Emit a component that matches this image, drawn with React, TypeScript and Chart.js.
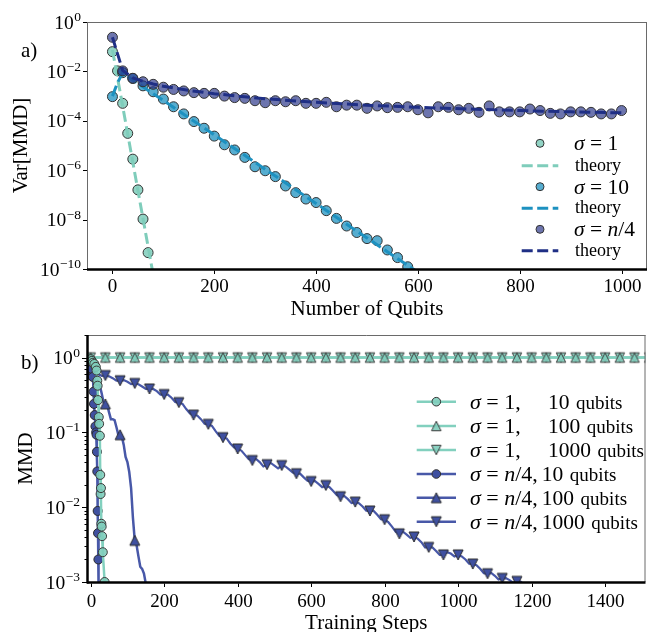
import React, { useEffect, useRef } from "react";
import { Chart, registerables } from "chart.js";
Chart.register(...registerables);

const SERIF = '"Liberation Serif", "Times New Roman", serif';

// ---------------- Panel a) : Var[MMD] vs number of qubits ----------------
const qubitsS1 = [0, 10, 20, 30, 40, 50, 60, 70];
const varS1 = [0.063, 0.0105, 5.1e-4, 3.1e-5, 2.8e-6, 1.6e-7, 1.05e-8, 4.6e-10];
const theoryQubitsS1 = [0, 20, 40, 60, 80];
const theoryS1 = [0.074, 4.0e-4, 2.1e-6, 1.1e-8, 5.9e-11];

const qubitsS10 = [0, 20, 40, 60, 80, 100, 120, 140, 160, 180, 200, 220, 240, 260, 280, 300, 320, 340, 360, 380, 400, 420, 440, 460, 480, 500, 520, 540, 560, 580];
const varS10 = [9.5e-4, 8.9e-3, 5.2e-3, 2.6e-3, 1.5e-3, 7.6e-4, 3.7e-4, 1.9e-4, 9.3e-5, 5.0e-5, 2.4e-5, 1.07e-5, 6.6e-6, 3.3e-6, 1.38e-6, 9.5e-7, 5.5e-7, 2.3e-7, 1.23e-7, 6.8e-8, 4.9e-8, 2.3e-8, 1.12e-8, 5.5e-9, 3.0e-9, 1.7e-9, 1.4e-9, 5.9e-10, 2.9e-10, 1.23e-10];
const theoryQubitsS10 = [0, 10, 20, 100, 200, 300, 400, 500, 600];
const theoryS10 = [1.0e-3, 3.5e-3, 8.5e-3, 6.6e-4, 2.7e-5, 1.1e-6, 4.5e-8, 1.8e-9, 7.4e-11];

const qubitsN4 = [0, 20, 40, 60, 80, 100, 120, 140, 160, 180, 200, 220, 240, 260, 280, 300, 320, 340, 360, 380, 400, 420, 440, 460, 480, 500, 520, 540, 560, 580, 600, 620, 640, 660, 680, 700, 720, 740, 760, 780, 800, 820, 840, 860, 880, 900, 920, 940, 960, 980, 1000];
const varN4 = [0.24, 0.0105, 0.00525, 0.0038, 0.003, 0.00229, 0.00186, 0.00162, 0.00138, 0.00129, 0.00129, 0.001, 0.00087, 0.00081, 0.00065, 0.00054, 0.00065, 0.00059, 0.00065, 0.00051, 0.00051, 0.00056, 0.00037, 0.00043, 0.00043, 0.00032, 0.0004, 0.00034, 0.00035, 0.00037, 0.00028, 0.00021, 0.00037, 0.00035, 0.00028, 0.00032, 0.00022, 0.0004, 0.00023, 0.00023, 0.00023, 0.0003, 0.00026, 0.0002, 0.00019, 0.00023, 0.00023, 0.00022, 0.00019, 0.00019, 0.00026];
const theoryQubitsN4 = [0, 20, 40, 60, 80, 100, 150, 200, 300, 400, 500, 600, 700, 800, 900, 1000];
const theoryN4 = [0.24, 0.011, 0.0055, 0.004, 0.0031, 0.0025, 0.0017, 0.00125, 0.00078, 0.00056, 0.00043, 0.00035, 0.0003, 0.00026, 0.00023, 0.00021];

const topXTicks = [0, 200, 400, 600, 800, 1000];
const topYTicks = [1, 1e-2, 1e-4, 1e-6, 1e-8, 1e-10];
const topYTickExps = ["0", "\u22122", "\u22124", "\u22126", "\u22128", "\u221210"];
const topLegendLabels = ["\u03c3 = 1", "theory", "\u03c3 = 10", "theory", "\u03c3 = n/4", "theory"];

// ---------------- Panel b) : MMD vs training steps ----------------
const stepsS1n10 = [0, 3, 6, 10, 14, 16, 18, 19, 20, 22, 23, 25, 26, 27, 28, 29, 30, 31, 33, 38];
const mmdS1n10 = [0.95, 0.9, 0.85, 0.82, 0.75, 0.67, 0.49, 0.42, 0.27, 0.16, 0.13, 0.09, 0.027, 0.015, 0.018, 0.006, 0.0055, 0.0041, 0.0025, 0.001];

const stepsFlat = [0, 40, 80, 120, 160, 200, 240, 280, 320, 360, 400, 440, 480, 520, 560, 600, 640, 680, 720, 760, 800, 840, 880, 920, 960, 1000, 1040, 1080, 1120, 1160, 1200, 1240, 1280, 1320, 1360, 1400, 1440, 1480, 1520];
const mmdS1n100 = [1.0, 1.0, 1.0, 1.0, 1.0, 1.0, 1.0, 1.0, 1.0, 1.0, 1.0, 1.0, 1.0, 1.0, 1.0, 1.0, 1.0, 1.0, 1.0, 1.0, 1.0, 1.0, 1.0, 1.0, 1.0, 1.0, 1.0, 1.0, 1.0, 1.0, 1.0, 1.0, 1.0, 1.0, 1.0, 1.0, 1.0, 1.0, 1.0];
const mmdS1n1000 = [1.0, 1.0, 1.0, 1.0, 1.0, 1.0, 1.0, 1.0, 1.0, 1.0, 1.0, 1.0, 1.0, 1.0, 1.0, 1.0, 1.0, 1.0, 1.0, 1.0, 1.0, 1.0, 1.0, 1.0, 1.0, 1.0, 1.0, 1.0, 1.0, 1.0, 1.0, 1.0, 1.0, 1.0, 1.0, 1.0, 1.0, 1.0, 1.0];

const stepsN4n10 = [0, 2, 4, 6, 8, 9, 11, 13, 15, 16, 17, 18, 19, 20, 21, 22];
const mmdN4n10 = [0.92, 0.85, 0.7, 0.55, 0.35, 0.24, 0.17, 0.12, 0.1, 0.093, 0.055, 0.03, 0.0089, 0.0045, 0.002, 0.0008];

const stepsN4n100 = [0, 5, 10, 15, 20, 25, 30, 35, 40, 45, 50, 55, 60, 65, 70, 75, 80, 85, 90, 95, 100, 105, 110, 115, 120, 125, 130, 135, 140, 145, 150, 155, 160];
const mmdN4n100 = [0.6, 0.63, 0.55, 0.45, 0.45, 0.42, 0.33, 0.253, 0.24, 0.232, 0.185, 0.15, 0.15, 0.146, 0.118, 0.094, 0.093, 0.087, 0.068, 0.047, 0.04, 0.0295, 0.018, 0.0072, 0.0036, 0.0031, 0.0022, 0.0016, 0.0015, 0.0013, 0.00095, 0.00068, 0.0006];

const stepsN4n1000 = [0, 10, 20, 30, 40, 50, 60, 70, 80, 90, 100, 110, 120, 130, 140, 150, 160, 170, 180, 190, 200, 210, 220, 230, 240, 250, 260, 270, 280, 290, 300, 310, 320, 330, 340, 350, 360, 370, 380, 390, 400, 410, 420, 430, 440, 450, 460, 470, 480, 490, 500, 510, 520, 530, 540, 550, 560, 570, 580, 590, 600, 610, 620, 630, 640, 650, 660, 670, 680, 690, 700, 710, 720, 730, 740, 750, 760, 770, 780, 790, 800, 810, 820, 830, 840, 850, 860, 870, 880, 890, 900, 910, 920, 930, 940, 950, 960, 970, 980, 990, 1000, 1010, 1020, 1030, 1040, 1050, 1060, 1070, 1080, 1090, 1100, 1110, 1120, 1130, 1140, 1150, 1160, 1170, 1180];
const mmdN4n1000 = [0.62, 0.63, 0.6, 0.57, 0.575, 0.56, 0.53, 0.49, 0.49, 0.5, 0.475, 0.44, 0.45, 0.44, 0.41, 0.38, 0.38, 0.38, 0.355, 0.32, 0.32, 0.32, 0.29, 0.255, 0.25, 0.24, 0.205, 0.18, 0.17, 0.168, 0.15, 0.13, 0.128, 0.122, 0.104, 0.09, 0.085, 0.083, 0.071, 0.063, 0.06, 0.057, 0.05, 0.044, 0.042, 0.044, 0.04, 0.035, 0.037, 0.039, 0.036, 0.033, 0.036, 0.035, 0.032, 0.029, 0.028, 0.028, 0.025, 0.0225, 0.022, 0.0225, 0.0205, 0.0185, 0.0195, 0.0185, 0.0165, 0.0145, 0.0138, 0.0141, 0.0128, 0.0114, 0.0117, 0.0113, 0.0102, 0.009, 0.0089, 0.0089, 0.0079, 0.0069, 0.0068, 0.0063, 0.0055, 0.0047, 0.0044, 0.0047, 0.0043, 0.0039, 0.004, 0.0038, 0.0034, 0.0029, 0.0029, 0.0029, 0.0026, 0.0023, 0.0023, 0.0025, 0.0024, 0.0022, 0.0023, 0.0022, 0.002, 0.00176, 0.00174, 0.00168, 0.0015, 0.00131, 0.00129, 0.00132, 0.00121, 0.00108, 0.00112, 0.00113, 0.00106, 0.00098, 0.00102, 0.00101, 0.00092];

const bottomXTicks = [0, 200, 400, 600, 800, 1000, 1200, 1400];
const bottomYTicks = [1, 0.1, 0.01, 0.001];
const bottomYTickExps = ["0", "\u22121", "\u22122", "\u22123"];
const bottomLegendMath = ["\u03c3 = 1,", "\u03c3 = 1,", "\u03c3 = 1,", "\u03c3 = n/4,", "\u03c3 = n/4,", "\u03c3 = n/4,"];
const bottomLegendCounts = ["10", "100", "1000", "10", "100", "1000"];

// ---------------- styles ----------------
const S1_LINE = "#7fcdbb";
const S1_FILL = "rgba(127,205,187,0.85)";
const S10_LINE = "#1d91c0";
const S10_FILL = "rgba(29,145,192,0.75)";
const N4_LINE = "#1f2f85";
const N4_FILL = "rgba(40,52,135,0.68)";
const EDGE = "#333333";
const B_TEAL = "#82d0be";
const B_TEAL_FILL = "rgba(127,205,187,0.9)";
const B_BLUE = "#4858a8";
const B_BLUE_FILL = "#3f50a0";

const pts = (xs: number[], ys: number[]) => xs.map((x, i) => ({ x, y: ys[i] }));

function triMarker(up: boolean, fill: string, edge: string, size: number) {
  const d = Math.ceil(size) + 4;
  const c = document.createElement("canvas");
  c.width = d;
  c.height = d;
  const g = c.getContext("2d")!;
  const h = size / 2;
  const cx = d / 2;
  const cy = d / 2;
  g.beginPath();
  if (up) {
    g.moveTo(cx, cy - h);
    g.lineTo(cx - h, cy + h);
    g.lineTo(cx + h, cy + h);
  } else {
    g.moveTo(cx, cy + h);
    g.lineTo(cx - h, cy - h);
    g.lineTo(cx + h, cy - h);
  }
  g.closePath();
  g.fillStyle = fill;
  g.fill();
  g.lineWidth = 1;
  g.strokeStyle = edge;
  g.stroke();
  return c;
}

function drawPow10(ctx: CanvasRenderingContext2D, exp: string, xRight: number, yc: number, size: number, supSize: number) {
  ctx.textAlign = "left";
  ctx.textBaseline = "alphabetic";
  ctx.font = `${size}px ${SERIF}`;
  const wb = ctx.measureText("10").width;
  ctx.font = `${supSize}px ${SERIF}`;
  const we = ctx.measureText(exp).width;
  const x0 = xRight - wb - we - 0.5;
  const base = yc + size * 0.335;
  ctx.font = `${size}px ${SERIF}`;
  ctx.fillText("10", x0, base);
  ctx.font = `${supSize}px ${SERIF}`;
  ctx.fillText(exp, x0 + wb + 0.5, base - size * 0.38);
}

function drawMath(ctx: CanvasRenderingContext2D, text: string, x: number, baseline: number, size: number) {
  let cx = x;
  const runs = text.match(/[A-Za-z\u03c3]+|[^A-Za-z\u03c3]+/g) || [];
  ctx.textAlign = "left";
  ctx.textBaseline = "alphabetic";
  for (const r of runs) {
    const it = /[A-Za-z\u03c3]/.test(r);
    ctx.font = `${it ? "italic " : ""}${size}px ${SERIF}`;
    ctx.fillText(r, cx, baseline);
    cx += ctx.measureText(r).width;
  }
  return cx;
}

function line(ctx: CanvasRenderingContext2D, x1: number, y1: number, x2: number, y2: number, color: string, w: number) {
  ctx.beginPath();
  ctx.strokeStyle = color;
  ctx.lineWidth = w;
  ctx.moveTo(x1, y1);
  ctx.lineTo(x2, y2);
  ctx.stroke();
}

const topAxes = {
  id: "topAxes",
  afterDraw(chart: any) {
    const ctx: CanvasRenderingContext2D = chart.ctx;
    const a = chart.chartArea;
    const xs = chart.scales.x;
    const ys = chart.scales.y;
    ctx.save();
    ctx.setLineDash([]);
    line(ctx, a.left + 0.5, a.top, a.left + 0.5, a.bottom, "#6a6a6a", 1);
    line(ctx, a.left, a.top + 0.5, a.right, a.top + 0.5, "#6a6a6a", 1);
    line(ctx, a.right - 0.5, a.top, a.right - 0.5, a.bottom, "#6a6a6a", 1);
    line(ctx, a.left, a.bottom + 0.5, a.right, a.bottom + 0.5, "#000", 2.5);
    ctx.fillStyle = "#000";
    topXTicks.forEach((v) => {
      const px = Math.round(xs.getPixelForValue(v)) + 0.5;
      line(ctx, px, a.bottom + 1.5, px, a.bottom + 5, "#000", 1);
      ctx.font = `19px ${SERIF}`;
      ctx.textAlign = "center";
      ctx.textBaseline = "alphabetic";
      ctx.fillText(String(v), px, 292);
    });
    topYTicks.forEach((v, i) => {
      const py = Math.round(ys.getPixelForValue(v)) + 0.5;
      line(ctx, a.left - 4, py, a.left, py, "#000", 1);
      drawPow10(ctx, topYTickExps[i], a.left - 6, ys.getPixelForValue(v), 19.5, 13.5);
    });
    ctx.font = `21px ${SERIF}`;
    ctx.textAlign = "center";
    ctx.textBaseline = "alphabetic";
    ctx.fillText("Number of Qubits", (a.left + a.right) / 2, 315);
    ctx.save();
    ctx.translate(27, (a.top + a.bottom) / 2);
    ctx.rotate(-Math.PI / 2);
    ctx.fillText("Var[MMD]", 0, 0);
    ctx.restore();
    ctx.textAlign = "left";
    ctx.fillText("a)", 21, 57);
    const rows = [143.3, 165.7, 186.7, 208.3, 229.3, 250.7];
    const fills = [S1_FILL, S10_FILL, N4_FILL];
    const lines = [S1_LINE, S10_LINE, N4_LINE];
    for (let k = 0; k < 3; k++) {
      const yP = rows[2 * k];
      ctx.beginPath();
      ctx.arc(540, yP, 4, 0, Math.PI * 2);
      ctx.fillStyle = fills[k];
      ctx.fill();
      ctx.lineWidth = 1;
      ctx.strokeStyle = EDGE;
      ctx.stroke();
      ctx.fillStyle = "#000";
      drawMath(ctx, topLegendLabels[2 * k], 574, yP + 7, 21.5);
      const yL = rows[2 * k + 1];
      ctx.save();
      ctx.setLineDash([11, 4.5]);
      line(ctx, 521.7, yL, 558.3, yL, lines[k], 3);
      ctx.restore();
      ctx.fillStyle = "#000";
      ctx.font = `18px ${SERIF}`;
      ctx.textAlign = "left";
      ctx.fillText(topLegendLabels[2 * k + 1], 575, yL + 5);
    }
    ctx.restore();
  },
};

const markers: any = {};
function getMarkers() {
  if (!markers.tealUp) {
    markers.tealUp = triMarker(true, B_TEAL_FILL, "#3a3a3a", 9.5);
    markers.tealDown = triMarker(false, B_TEAL_FILL, "#3a3a3a", 9.5);
    markers.blueUp = triMarker(true, B_BLUE_FILL, "#2a2a2a", 10);
    markers.blueDown = triMarker(false, B_BLUE_FILL, "#2a2a2a", 10);
  }
  return markers;
}

const bottomAxes = {
  id: "bottomAxes",
  afterDraw(chart: any) {
    const ctx: CanvasRenderingContext2D = chart.ctx;
    const a = chart.chartArea;
    const xs = chart.scales.x;
    const ys = chart.scales.y;
    const m = getMarkers();
    ctx.save();
    ctx.setLineDash([]);
    line(ctx, a.left, a.top + 0.5, a.right, a.top + 0.5, "#6a6a6a", 1);
    line(ctx, a.right - 0.5, a.top, a.right - 0.5, a.bottom, "#6a6a6a", 1);
    line(ctx, a.left + 0.5, a.top, a.left + 0.5, a.bottom + 1.5, "#000", 2.5);
    line(ctx, a.left, a.bottom + 0.5, a.right, a.bottom + 0.5, "#000", 2.5);
    ctx.fillStyle = "#000";
    bottomXTicks.forEach((v) => {
      const px = Math.round(xs.getPixelForValue(v)) + 0.5;
      line(ctx, px, a.bottom + 1.5, px, a.bottom + 5, "#000", 1);
      ctx.font = `19px ${SERIF}`;
      ctx.textAlign = "center";
      ctx.textBaseline = "alphabetic";
      ctx.fillText(String(v), px, a.bottom + 25);
    });
    for (let d = -3; d <= 0; d++) {
      for (let k = 2; k <= 9; k++) {
        const v = k * Math.pow(10, d);
        if (v > ys.max) continue;
        const py = Math.round(ys.getPixelForValue(v)) + 0.5;
        line(ctx, a.left - 2.5, py, a.left, py, "#000", 1);
      }
    }
    bottomYTicks.forEach((v, i) => {
      const py = Math.round(ys.getPixelForValue(v)) + 0.5;
      line(ctx, a.left - 5, py, a.left, py, "#000", 1);
      drawPow10(ctx, bottomYTickExps[i], a.left - 7, ys.getPixelForValue(v), 19.5, 13.5);
    });
    ctx.font = `21px ${SERIF}`;
    ctx.textAlign = "center";
    ctx.textBaseline = "alphabetic";
    ctx.fillText("Training Steps", (a.left + a.right) / 2, 309);
    ctx.save();
    ctx.translate(32, (a.top + a.bottom) / 2);
    ctx.rotate(-Math.PI / 2);
    ctx.fillText("MMD", 0, 0);
    ctx.restore();
    ctx.textAlign = "left";
    ctx.fillText("b)", 21, 49);
    const rows = [81.7, 106, 130, 154, 177.7, 201.7];
    const icons = [null, m.tealUp, m.tealDown, null, m.blueUp, m.blueDown];
    for (let r = 0; r < 6; r++) {
      const y = rows[r];
      const teal = r < 3;
      line(ctx, 416.7, y, 456, y, teal ? B_TEAL : B_BLUE, 2.5);
      const icon = icons[r];
      if (icon) {
        ctx.drawImage(icon, 436.3 - icon.width / 2, y - icon.height / 2);
      } else {
        ctx.beginPath();
        ctx.arc(436.3, y, 4.3, 0, Math.PI * 2);
        ctx.fillStyle = teal ? B_TEAL_FILL : B_BLUE_FILL;
        ctx.fill();
        ctx.lineWidth = 1;
        ctx.strokeStyle = "#333";
        ctx.stroke();
      }
      ctx.fillStyle = "#000";
      const end = drawMath(ctx, bottomLegendMath[r], 470, y + 7, 22);
      const nx = teal ? 548 : end + 4;
      ctx.font = `21.5px ${SERIF}`;
      ctx.textAlign = "left";
      ctx.fillText(bottomLegendCounts[r], nx, y + 7);
      const nEnd = nx + ctx.measureText(bottomLegendCounts[r]).width;
      ctx.font = `19px ${SERIF}`;
      ctx.fillText("qubits", nEnd + 6.5, y + 7);
    }
    ctx.restore();
  },
};

function topConfig(): any {
  return {
    type: "scatter",
    data: {
      datasets: [
        { data: pts(theoryQubitsN4, theoryN4), showLine: true, borderColor: N4_LINE, borderWidth: 3, borderDash: [11, 4.5], pointRadius: 0, clip: 0 },
        { data: pts(qubitsN4, varN4), showLine: false, pointRadius: 5, backgroundColor: N4_FILL, borderColor: EDGE, borderWidth: 1, clip: 0 },
        { data: pts(theoryQubitsS10, theoryS10), showLine: true, borderColor: S10_LINE, borderWidth: 3, borderDash: [11, 4.5], pointRadius: 0, clip: 0 },
        { data: pts(qubitsS10, varS10), showLine: false, pointRadius: 5, backgroundColor: S10_FILL, borderColor: EDGE, borderWidth: 1, clip: 0 },
        { data: pts(theoryQubitsS1, theoryS1), showLine: true, borderColor: S1_LINE, borderWidth: 3, borderDash: [11, 4.5], pointRadius: 0, clip: 0 },
        { data: pts(qubitsS1, varS1), showLine: false, pointRadius: 5, backgroundColor: S1_FILL, borderColor: EDGE, borderWidth: 1, clip: 0 },
      ],
    },
    options: {
      responsive: false,
      animation: false,
      devicePixelRatio: 1,
      events: [],
      layout: { padding: { left: 87, right: 1, top: 22, bottom: 51 } },
      scales: {
        x: { type: "linear", min: -50, max: 1050, display: false },
        y: { type: "logarithmic", min: 1e-10, max: 1, display: false },
      },
      plugins: { legend: { display: false }, tooltip: { enabled: false } },
    },
    plugins: [topAxes],
  };
}

function bottomConfig(): any {
  const m = getMarkers();
  return {
    type: "scatter",
    data: {
      datasets: [
        { data: pts(stepsS1n10, mmdS1n10), showLine: true, borderColor: B_TEAL, borderWidth: 2.5, pointRadius: 4.5, pointStyle: "circle", backgroundColor: B_TEAL_FILL, pointBorderColor: "#3a3a3a", pointBorderWidth: 1, clip: 0 },
        { data: pts(stepsFlat, mmdS1n100), showLine: true, borderColor: B_TEAL, borderWidth: 2.5, pointRadius: 5, pointStyle: m.tealUp, clip: 0 },
        { data: pts(stepsFlat, mmdS1n1000), showLine: true, borderColor: B_TEAL, borderWidth: 2.5, pointRadius: 5, pointStyle: m.tealDown, clip: 0 },
        { data: pts(stepsN4n10, mmdN4n10), showLine: true, borderColor: B_BLUE, borderWidth: 2.5, pointRadius: 4.5, pointStyle: "circle", backgroundColor: B_BLUE_FILL, pointBorderColor: "#2a2a2a", pointBorderWidth: 1, clip: 0 },
        { data: pts(stepsN4n100, mmdN4n100), showLine: true, borderColor: B_BLUE, borderWidth: 2.5, pointRadius: (c: any) => (c.dataIndex % 8 === 0 ? 5 : 0), pointStyle: m.blueUp, clip: 0 },
        { data: pts(stepsN4n1000, mmdN4n1000), showLine: true, borderColor: B_BLUE, borderWidth: 2.2, pointRadius: (c: any) => (c.dataIndex % 4 === 0 ? 5 : 0), pointStyle: m.blueDown, clip: 0 },
      ],
    },
    options: {
      responsive: false,
      animation: false,
      devicePixelRatio: 1,
      events: [],
      layout: { padding: { left: 87, right: 1, top: 15, bottom: 50 } },
      scales: {
        x: { type: "linear", min: -10, max: 1510, display: false },
        y: { type: "logarithmic", min: 1e-3, max: 2, display: false },
      },
      plugins: { legend: { display: false }, tooltip: { enabled: false } },
    },
    plugins: [bottomAxes],
  };
}

export default function App() {
  const topRef = useRef<HTMLCanvasElement>(null);
  const botRef = useRef<HTMLCanvasElement>(null);
  useEffect(() => {
    const c1 = new Chart(topRef.current!, topConfig());
    const c2 = new Chart(botRef.current!, bottomConfig());
    return () => {
      c1.destroy();
      c2.destroy();
    };
  }, []);
  return (
    <div style={{ position: "absolute", left: 0, top: 0, width: 653, height: 632, background: "#fff", overflow: "hidden" }}>
      <canvas ref={topRef} width={653} height={320} style={{ position: "absolute", left: 0, top: 0 }} />
      <canvas ref={botRef} width={653} height={312} style={{ position: "absolute", left: 0, top: 320 }} />
    </div>
  );
}
